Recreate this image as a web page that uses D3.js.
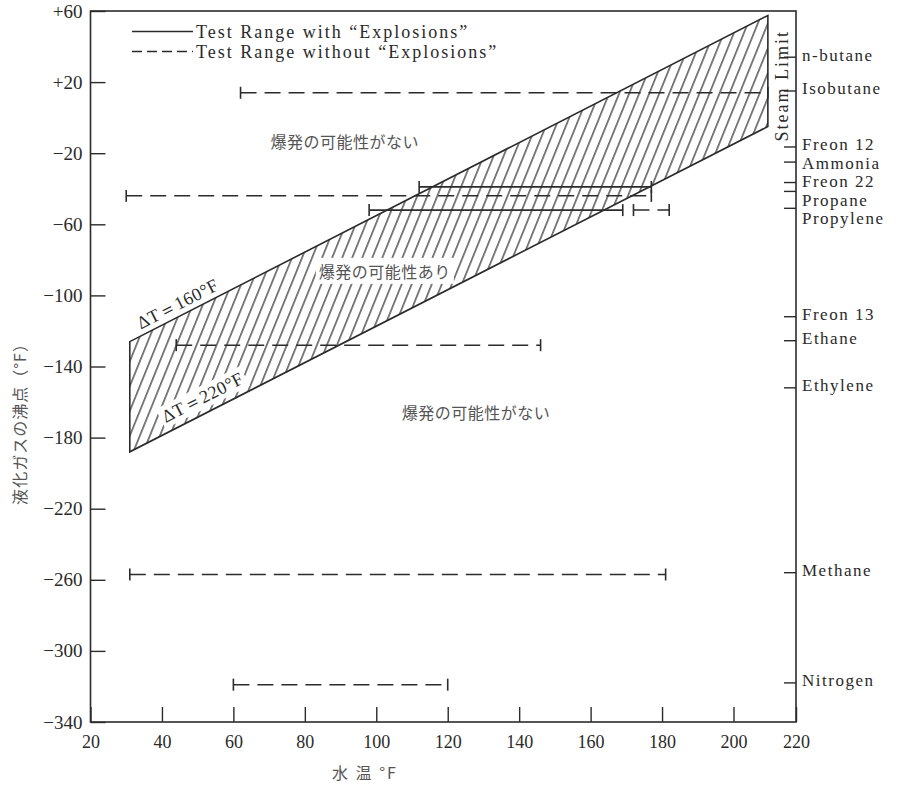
<!DOCTYPE html>
<html>
<head>
<meta charset="utf-8">
<script src="https://cdn.jsdelivr.net/npm/d3@7"></script>
<style>
    body { margin: 0; background: #fff; }
    svg text { font-family: "Liberation Serif", "DejaVu Serif", serif; fill: #2a2a2a; }
    svg text.jp { font-family: "Noto Sans CJK JP", sans-serif; fill: #555; }
</style>
</head>
<body>
<svg id="chart" width="901" height="786"></svg>
<script>
// axis ticks
const xTicks = [20, 40, 60, 80, 100, 120, 140, 160, 180, 200, 220];
const yTicks = [60, 20, -20, -60, -100, -140, -180, -220, -260, -300, -340];
const yTickLabels = ["+60", "+20", "−20", "−60", "−100", "−140", "−180", "−220", "−260", "−300", "−340"];

// gases on the right axis (boiling point, °F, as drawn)
const gasNames = ["n-butane", "Isobutane", "Freon 12", "Ammonia", "Freon 22", "Propane", "Propylene",
                  "Freon 13", "Ethane", "Ethylene", "Methane", "Nitrogen"];
const gasBoil = [34, 15, -16.5, -25, -36.5, -41.5, -51, -112, -125.5, -152, -256, -318];

// test ranges (water temperature from..to at the gas boiling point)
const rangeBoil = [14, -39, -44, -52, -52, -128, -257, -319];
const rangeFrom = [62, 112, 30, 98, 172, 44, 31, 60];
const rangeTo = [211, 177, 177, 169, 182, 146, 181, 120];
const rangeExplosion = [false, true, false, true, false, false, false, false];

// explosion band (water temp, boiling point at ΔT=160 and ΔT=220)
const bandWater = [31, 211];
const bandUpper = [-126, 57.5];
const bandLower = [-188, -5];

const ink = "#2b2b2b";
const svg = d3.select("#chart");

svg.append("rect").attr("width", 901).attr("height", 786).attr("fill", "#fff");

// the last interval (200-220) is drawn shorter in the original
const x = d3.scaleLinear().domain([20, 200, 220]).range([90.5, 733.5, 796]);
const y = d3.scaleLinear().domain([-340, 60]).range([722, 11]);

// hatch
svg.append("defs").append("pattern")
    .attr("id", "hatch")
    .attr("patternUnits", "userSpaceOnUse")
    .attr("width", 9.3).attr("height", 20)
    .attr("patternTransform", "rotate(22)")
    .append("line")
    .attr("x1", 4.6).attr("y1", 0).attr("x2", 4.6).attr("y2", 20)
    .attr("stroke", ink).attr("stroke-width", 1.2);

let bandPts = [
    [bandWater[0], bandUpper[0]],
    [bandWater[1], bandUpper[1]],
    [bandWater[1], bandLower[1]],
    [bandWater[0], bandLower[0]],
];
svg.append("path")
    .attr("d", d3.line().x(d => x(d[0])).y(d => y(d[1]))(bandPts) + "Z")
    .attr("fill", "url(#hatch)")
    .attr("stroke", ink)
    .attr("stroke-width", 1.6);

// angle of the band edges in screen space
let angle = Math.atan2(y(bandUpper[1]) - y(bandUpper[0]), x(bandWater[1]) - x(bandWater[0])) * 180 / Math.PI;

function label(txt, wx, by, opts) {
    let g = svg.append("g")
        .attr("transform", `translate(${x(wx)},${y(by)}) rotate(${opts.rotate || 0})`);
    let t = g.append("text")
        .attr("class", opts.cls || null)
        .attr("text-anchor", "middle")
        .attr("dominant-baseline", "central")
        .style("font-size", opts.size + "px")
        .style("letter-spacing", (opts.spacing || 0) + "px")
        .text(txt);
    if (opts.bg) {
        let b = t.node().getBBox();
        g.insert("rect", "text")
            .attr("x", b.x - 3).attr("y", b.y - 1)
            .attr("width", b.width + 6).attr("height", b.height + 2)
            .attr("fill", "#fff");
    }
    return t;
}

// test ranges
rangeBoil.forEach((b, i) => {
    let yy = y(b);
    svg.append("line")
        .attr("x1", x(rangeFrom[i])).attr("x2", x(rangeTo[i]))
        .attr("y1", yy).attr("y2", yy)
        .attr("stroke", ink)
        .attr("stroke-width", rangeExplosion[i] ? 1.8 : 1.5)
        .attr("stroke-dasharray", rangeExplosion[i] ? null : "16,8");
    [rangeFrom[i], rangeTo[i]].forEach(v => {
        svg.append("line")
            .attr("x1", x(v)).attr("x2", x(v))
            .attr("y1", yy - 6).attr("y2", yy + 6)
            .attr("stroke", ink).attr("stroke-width", 1.6);
    });
});

// labels on the band
label("ΔT＝160°F", 44.4, -104.8, { rotate: angle, size: 18, spacing: 0.5 });
label("ΔT＝220°F", 51.4, -157.4, { rotate: angle, size: 18, spacing: 0.5, bg: true });

// region labels
label("爆発の可能性がない", 91.2, -13.1, { size: 16, spacing: 0.5, cls: "jp" });
label("爆発の可能性あり", 102.4, -86.2, { size: 16, spacing: 0.5, cls: "jp", bg: true });
label("爆発の可能性がない", 127.9, -165.5, { size: 16, spacing: 0.5, cls: "jp" });

// steam limit
label("Steam Limit", 215.5, 18, { rotate: -90, size: 18, spacing: 2 });

// frame
svg.append("rect")
    .attr("x", x(20)).attr("y", y(60))
    .attr("width", x(220) - x(20)).attr("height", y(-340) - y(60))
    .attr("fill", "none")
    .attr("stroke", ink)
    .attr("stroke-width", 1.6);

// x axis
svg.append("g")
    .attr("transform", `translate(0,${y(-340)})`)
    .call(d3.axisBottom(x).tickValues(xTicks).tickSizeInner(-15).tickSizeOuter(0).tickPadding(13))
    .call(g => g.select(".domain").remove())
    .call(g => g.selectAll(".tick line").attr("stroke", ink).attr("stroke-width", 1.4))
    .call(g => g.selectAll(".tick text")
        .style("font-family", "'Liberation Serif', serif")
        .style("font-size", "18px")
        .attr("fill", ink));

// y axis
svg.append("g")
    .attr("transform", `translate(${x(20)},0)`)
    .call(d3.axisLeft(y).tickValues(yTicks).tickSizeInner(-15).tickSizeOuter(0).tickPadding(8)
        .tickFormat((d, i) => yTickLabels[i]))
    .call(g => g.select(".domain").remove())
    .call(g => g.selectAll(".tick line").attr("stroke", ink).attr("stroke-width", 1.4))
    .call(g => g.selectAll(".tick text")
        .style("font-family", "'Liberation Serif', serif")
        .style("font-size", "19px")
        .attr("fill", ink));

// gases on right axis
let lastY = -100;
gasBoil.forEach((b, i) => {
    let ty = y(b);
    svg.append("line")
        .attr("x1", x(220) - 12).attr("x2", x(220))
        .attr("y1", ty).attr("y2", ty)
        .attr("stroke", ink).attr("stroke-width", 1.4);
    let ly = Math.max(ty - 2, lastY + 18.5);
    lastY = ly;
    svg.append("text")
        .attr("x", x(220) + 6)
        .attr("y", ly)
        .attr("dominant-baseline", "central")
        .style("font-size", "17px")
        .style("letter-spacing", "1.5px")
        .text(gasNames[i]);
});

// legend
let legend = [
    { txt: "Test Range with “Explosions”", dash: null, ly: 31.5 },
    { txt: "Test Range without “Explosions”", dash: "10,5", ly: 51.5 },
];
legend.forEach(d => {
    svg.append("line")
        .attr("x1", 132).attr("x2", 193)
        .attr("y1", d.ly).attr("y2", d.ly)
        .attr("stroke", ink).attr("stroke-width", 1.5)
        .attr("stroke-dasharray", d.dash);
    svg.append("text")
        .attr("x", 196).attr("y", d.ly)
        .attr("dominant-baseline", "central")
        .style("font-size", "18px")
        .style("letter-spacing", "2px")
        .text(d.txt);
});

// axis titles
svg.append("text")
    .attr("class", "jp")
    .attr("transform", "translate(19,420) rotate(-90)")
    .attr("text-anchor", "middle")
    .attr("dominant-baseline", "central")
    .style("font-size", "16px")
    .style("letter-spacing", "1px")
    .text("液化ガスの沸点（°F）");

svg.append("text")
    .attr("class", "jp")
    .attr("x", 365).attr("y", 772)
    .attr("text-anchor", "middle")
    .attr("dominant-baseline", "central")
    .style("font-size", "16px")
    .style("letter-spacing", "2px")
    .text("水 温 °F");
</script>
</body>
</html>
